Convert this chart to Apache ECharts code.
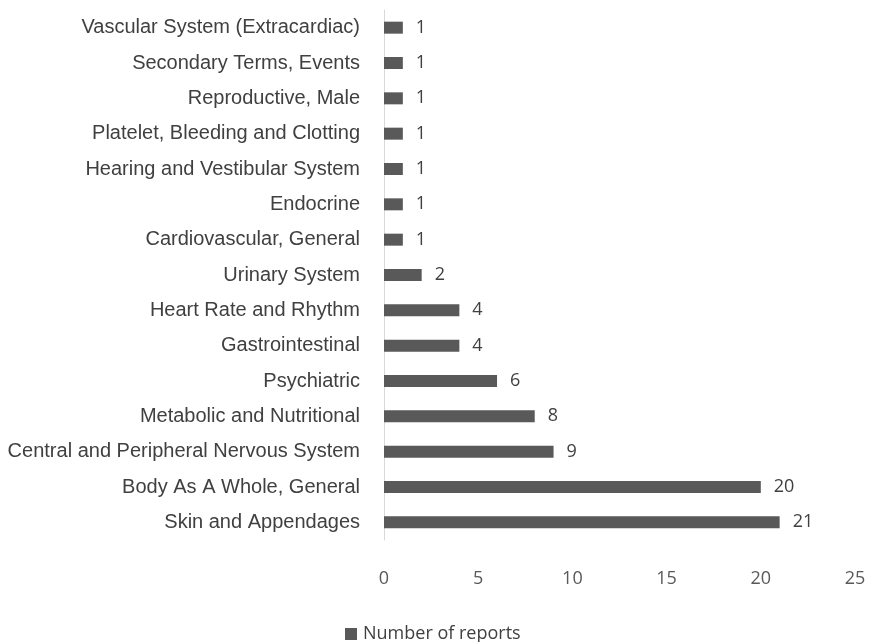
<!DOCTYPE html>
<html><head><meta charset="utf-8">
<script src="https://cdn.jsdelivr.net/npm/echarts@6/dist/echarts.min.js"></script>
<style>html,body{margin:0;padding:0;background:#fff}#c{width:869px;height:642px}</style>
</head><body><div id="c"></div>
<script>
const categories = ["Skin and Appendages","Body As A Whole, General","Central and Peripheral Nervous System","Metabolic and Nutritional","Psychiatric","Gastrointestinal","Heart Rate and Rhythm","Urinary System","Cardiovascular, General","Endocrine","Hearing and Vestibular System","Platelet, Bleeding and Clotting","Reproductive, Male","Secondary Terms, Events","Vascular System (Extracardiac)"];
const reports = [21,20,9,8,6,4,4,2,1,1,1,1,1,1,1];
const xTicks = [0,5,10,15,20,25];
const chart = echarts.init(document.getElementById('c'));
chart.setOption({
  animation:false,
  grid:{left:384,right:14,top:10,bottom:102},
  legend:{top:620,left:340,itemWidth:12,itemHeight:12,itemGap:6,icon:'rect',
    textStyle:{fontFamily:'Open Sans',fontSize:18,color:'#404040',padding:[0,0,0,1]},data:['Number of reports']},
  xAxis:{type:'value',min:xTicks[0],max:xTicks[xTicks.length-1],interval:5,
    axisLine:{show:false},axisTick:{show:false},splitLine:{show:false},
    axisLabel:{margin:30,fontFamily:'Open Sans',fontSize:18,color:'#595959'}},
  yAxis:{type:'category',data:categories,
    axisLine:{show:true,lineStyle:{color:'#d9d9d9'}},axisTick:{show:false},
    axisLabel:{margin:24,fontFamily:'Liberation Sans',fontSize:20,color:'#404040'}},
  series:[{name:'Number of reports',type:'bar',data:reports,barWidth:12,
    itemStyle:{color:'#595959'},
    label:{show:true,position:'right',distance:13,fontFamily:'Open Sans',fontSize:18,color:'#404040'}}]
});
</script></body></html>
